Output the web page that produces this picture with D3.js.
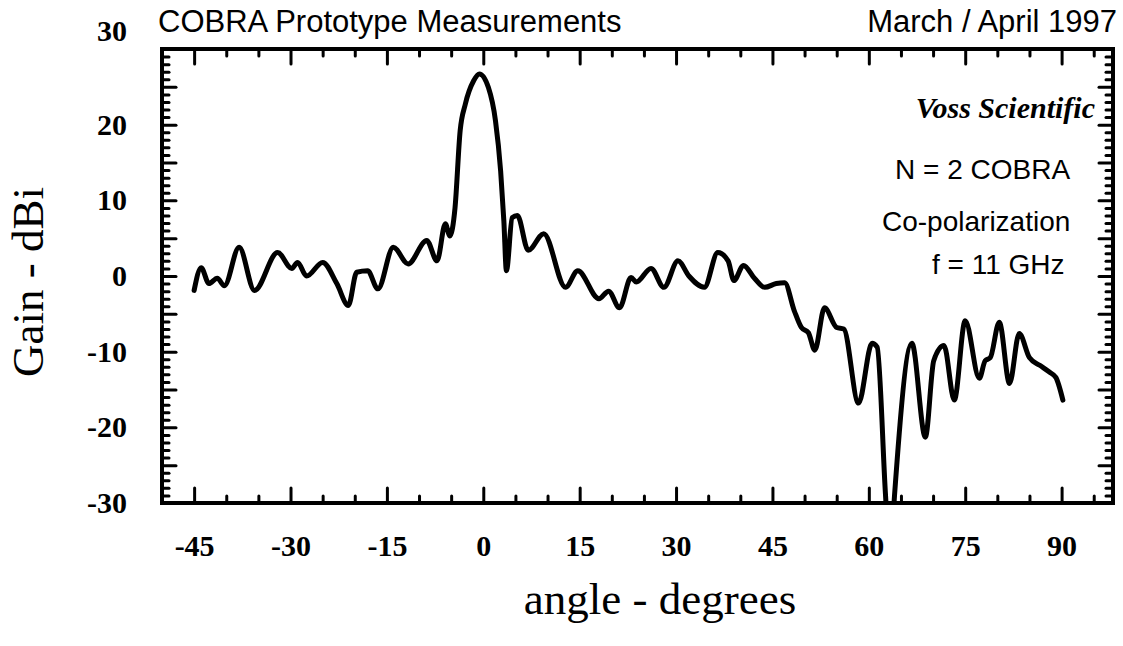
<!DOCTYPE html>
<html>
<head>
<meta charset="utf-8">
<script src="https://cdn.jsdelivr.net/npm/d3@7"></script>
<style>
  body { margin: 0; background: #fff; }
</style>
</head>
<body>
<div id="chart"></div>
<script>
// antenna pattern
const angles = [-45, -43.9, -42.7, -41.4, -40.3, -38, -35.6, -32, -29.8, -28.9,
  -27.5, -25, -22.8, -21, -19.7, -18, -16.4, -14, -11.7, -8.8,
  -7.2, -5.9, -5.2, -4.4, -3.6, -2.8, -1.5, -0.6, 0.8, 1.9,
  2.7, 3.2, 3.6, 4.5, 5.3, 7, 9.4, 12.8, 14.7, 18,
  19.5, 21.2, 23, 23.8, 26.1, 28.1, 30.3, 32, 34.4, 36.5,
  38.1, 39, 40.5, 42.2, 43.8, 45.6, 46.9, 48.4, 49.5, 50.6,
  51.6, 53.1, 55, 56.1, 58.4, 60.5, 61.3, 62.6, 63.3, 64.0,
  66.7, 68.8, 70.1, 71.7, 73.3, 75, 77.2, 78.1, 78.9, 80.3,
  81.9, 83.4, 85, 86.6, 88.1, 89.1, 90.2];
const gains = [-1.9, 1.1, -1, -0.3, -1.3, 3.8, -1.9, 3.1, 1.0, 1.8,
  0, 1.8, -1, -3.9, 0.5, 0.7, -1.7, 3.8, 1.6, 4.7,
  2, 6.9, 5.3, 9, 19.2, 22.7, 25.8, 26.7, 24.9, 20.5,
  13.9, 7.3, 0.7, 7.7, 8, 3.4, 5.6, -1.5, 0.7, -3,
  -2, -4.2, -0.2, -0.8, 1, -1.5, 2, 0, -1.5, 3.1,
  2, -0.6, 1.4, -0.3, -1.5, -1, -0.9, -4.6, -6.8, -7.5,
  -9.8, -4.2, -6.8, -7, -16.8, -8.9, -9.4, -29, -38, -29,
  -8.9, -21.3, -11.2, -9.2, -16.4, -5.9, -13.5, -11.2, -10.8, -6.1,
  -14.2, -7.6, -10.8, -11.8, -12.7, -13.4, -16.4];

const xTickLabels = [-45, -30, -15, 0, 15, 30, 45, 60, 75, 90];
const yTickLabels = [-30, -20, -10, 0, 10, 20, 30];
const notes = ["N = 2 COBRA", "Co-polarization", "f = 11 GHz"];

const data = angles.map((a, i) => ({ angle: a, gain: gains[i] }));

// set the dimensions and margins of the graph
const margin = { top: 49, right: 10, bottom: 143, left: 162 },
    width = 1123 - margin.left - margin.right,
    height = 646 - margin.top - margin.bottom;

const root = d3.select("#chart")
    .append("svg")
    .attr("width", 1123)
    .attr("height", 646);

const svg = root.append("g")
    .attr("transform", `translate(${margin.left},${margin.top})`);

const x = d3.scaleLinear().domain([-50, 98]).range([0, width]);
const y = d3.scaleLinear().domain([-30, 30]).range([height, 0]);

const serif = "'Liberation Serif', 'Times New Roman', serif";
const sans = "'Liberation Sans', Arial, Helvetica, sans-serif";

// minor / major ticks every 5 deg, every 1 dB
const xMinor = d3.range(-50, 96, 5).filter(d => d % 15 !== 0);
const yMinor = d3.range(-30, 31, 1).filter(d => d % 5 !== 0);
const yMid = d3.range(-30, 31, 5);

function styleTicks(g) {
  g.select(".domain").remove();
  g.selectAll(".tick line")
    .attr("stroke", "#000")
    .attr("stroke-width", 3)
    .attr("stroke-linecap", "round");
}

// bottom
svg.append("g")
    .attr("transform", `translate(0,${height})`)
    .call(d3.axisBottom(x).tickValues(xMinor).tickSize(-7).tickFormat(""))
    .call(styleTicks);
svg.append("g")
    .attr("transform", `translate(0,${height})`)
    .call(d3.axisBottom(x).tickValues(xTickLabels).tickSize(-15)
      .tickPadding(32).tickFormat(d => String(d)))
    .call(styleTicks)
    .call(g => g.selectAll("text")
      .attr("font-family", serif).attr("font-weight", "bold")
      .attr("font-size", 30).attr("fill", "#000"));

// top
svg.append("g")
    .call(d3.axisTop(x).tickValues(xMinor).tickSize(-7).tickFormat(""))
    .call(styleTicks);
svg.append("g")
    .call(d3.axisTop(x).tickValues(xTickLabels).tickSize(-15).tickFormat(""))
    .call(styleTicks);

// left
svg.append("g")
    .call(d3.axisLeft(y).tickValues(yMinor).tickSize(-7).tickFormat(""))
    .call(styleTicks);
svg.append("g")
    .call(d3.axisLeft(y).tickValues(yMid).tickSize(-14).tickFormat(""))
    .call(styleTicks);
svg.append("g")
    .call(d3.axisLeft(y).tickValues(yTickLabels).tickSize(0)
      .tickPadding(35).tickFormat(d => String(d)))
    .call(styleTicks)
    .call(g => g.selectAll("text")
      .attr("font-family", serif).attr("font-weight", "bold")
      .attr("font-size", 30).attr("fill", "#000"))
    // the top label sits a little above the frame in the original
    .call(g => g.selectAll("text").filter(d => d === 30)
      .attr("y", -18));

// right
svg.append("g")
    .attr("transform", `translate(${width},0)`)
    .call(d3.axisRight(y).tickValues(yMinor).tickSize(-7).tickFormat(""))
    .call(styleTicks);
svg.append("g")
    .attr("transform", `translate(${width},0)`)
    .call(d3.axisRight(y).tickValues(yMid).tickSize(-14).tickFormat(""))
    .call(styleTicks);

// frame
svg.append("rect")
    .attr("width", width)
    .attr("height", height)
    .attr("fill", "none")
    .attr("stroke", "#000")
    .attr("stroke-width", 4);

// the measured line
svg.append("clipPath").attr("id", "plot-clip")
  .append("rect").attr("width", width).attr("height", height);

svg.append("path")
    .datum(data)
    .attr("clip-path", "url(#plot-clip)")
    .attr("fill", "none")
    .attr("stroke", "#000")
    .attr("stroke-width", 5)
    .attr("stroke-linejoin", "round")
    .attr("stroke-linecap", "round")
    .attr("d", d3.line()
      .curve(d3.curveMonotoneX)
      .x(d => x(d.angle))
      .y(d => y(d.gain)));

// headings
root.append("text")
    .attr("x", 158).attr("y", 32)
    .attr("font-family", sans).attr("font-size", 31)
    .text("COBRA Prototype Measurements");
root.append("text")
    .attr("x", 1117).attr("y", 32)
    .attr("text-anchor", "end")
    .attr("font-family", sans).attr("font-size", 31)
    .text("March / April 1997");

// notes inside the plot
root.append("text")
    .attr("x", 1095).attr("y", 118)
    .attr("text-anchor", "end")
    .attr("font-family", serif).attr("font-weight", "bold")
    .attr("font-style", "italic").attr("font-size", 30)
    .text("Voss Scientific");

const noteX = [895, 882, 932];
const noteY = [179, 231, 274];
root.selectAll(".note")
    .data(notes)
    .join("text")
    .attr("class", "note")
    .attr("x", (d, i) => noteX[i])
    .attr("y", (d, i) => noteY[i])
    .attr("font-family", sans).attr("font-size", 28)
    .text(d => d);

// axis titles
root.append("text")
    .attr("transform", "translate(43,282) rotate(-90)")
    .attr("text-anchor", "middle")
    .attr("font-family", serif).attr("font-size", 45)
    .text("Gain - dBi");
root.append("text")
    .attr("x", 660).attr("y", 614)
    .attr("text-anchor", "middle")
    .attr("font-family", serif).attr("font-size", 45)
    .text("angle - degrees");
</script>
</body>
</html>
